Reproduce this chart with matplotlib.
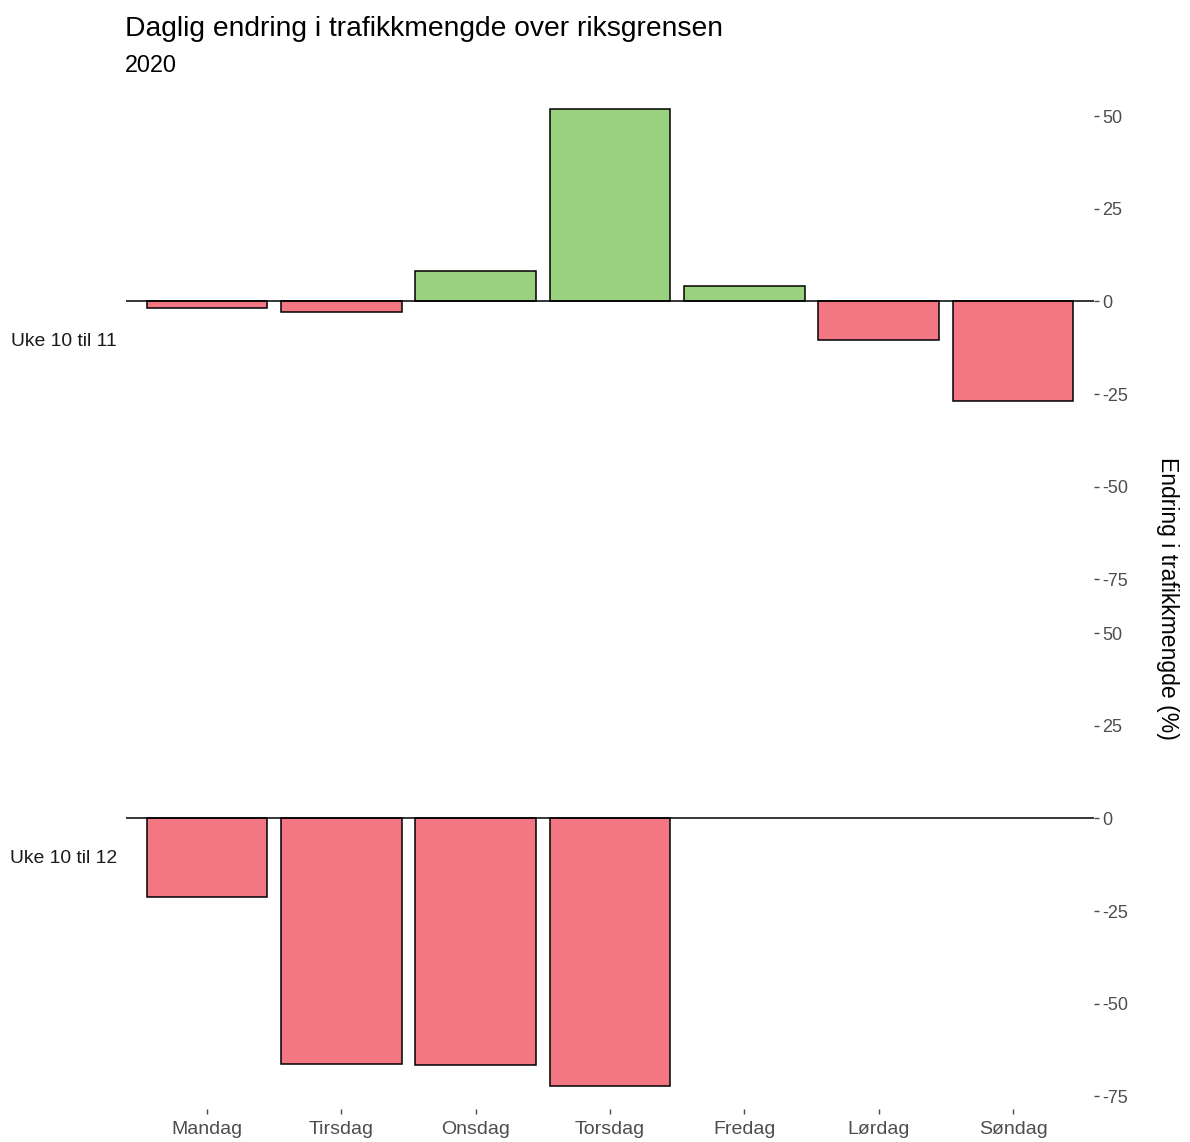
import numpy as np
import matplotlib
matplotlib.use("Agg")
import matplotlib.pyplot as plt

plt.rcParams['font.family'] = ['Liberation Sans', 'DejaVu Sans']
plt.rcParams['axes.unicode_minus'] = False

days = ["Mandag", "Tirsdag", "Onsdag", "Torsdag", "Fredag", "Lørdag", "Søndag"]
periods = ["Uke 10 til 11", "Uke 10 til 12"]
# endring i prosent per dag
uke_10_11 = [-1.9, -3.0, 8.1, 51.9, 4.1, -10.3, -26.8]
uke_10_12 = [-21.1, -66.2, -66.5, -72.2, np.nan, np.nan, np.nan]
yticks = [-75, -50, -25, 0, 25, 50]

green = "#9AD17F"
red = "#F37683"
grey = "#4D4D4D"

fig = plt.figure(figsize=(11.9, 11.42), dpi=100)
ax1 = fig.add_axes([0.1062, 0.4816, 0.8128, 0.4431])
ax2 = fig.add_axes([0.1062, 0.0289, 0.8128, 0.4431])

x = np.arange(1, len(days) + 1)
allvals = np.array(uke_10_11 + uke_10_12, dtype=float)
lo, hi = np.nanmin(allvals), np.nanmax(allvals)
pad = (hi - lo) * 0.05

for ax, vals, label in zip([ax1, ax2], [uke_10_11, uke_10_12], periods):
    vals = np.array(vals, dtype=float)
    cols = [green if v > 0 else red for v in np.nan_to_num(vals)]
    ok = ~np.isnan(vals)
    ax.bar(x[ok], vals[ok], width=0.9, color=np.array(cols)[ok],
           edgecolor="black", linewidth=1.1, zorder=2)
    ax.axhline(0, color="black", linewidth=1.1, zorder=3)
    ax.set_xlim(0.4, 7.6)
    ax.set_ylim(lo - pad, hi + pad)
    ax.set_yticks(yticks)
    ax.yaxis.tick_right()
    ax.tick_params(axis="y", colors=grey, labelsize=13, length=3.5, width=1, pad=2.5)
    for s in ax.spines.values():
        s.set_visible(False)
    ax.text(-0.01, 0.495, label, transform=ax.transAxes, ha="right", va="center",
            fontsize=13.9, color="#1A1A1A")

ax1.set_xticks([])
ax2.set_xticks(x)
ax2.set_xticklabels(days)
ax2.tick_params(axis="x", colors=grey, labelsize=14, length=3.5, width=1, pad=5)

fig.text(0.9815, 0.476, "Endring i trafikkmengde (%)", rotation=-90,
         ha="center", va="center", fontsize=16.6)
fig.text(0.105, 0.975, "Daglig endring i trafikkmengde over riksgrensen",
         ha="left", va="center", fontsize=20.3)
fig.text(0.105, 0.943, "2020", ha="left", va="center", fontsize=16.8)

fig.savefig("out.png", dpi=100)
